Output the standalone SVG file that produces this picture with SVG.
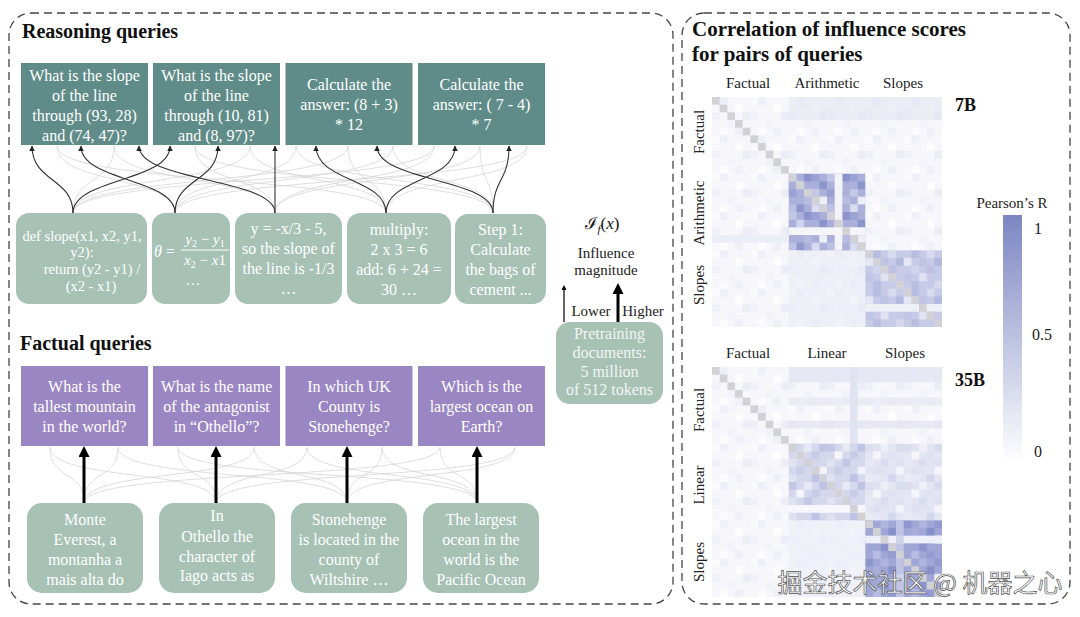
<svg xmlns="http://www.w3.org/2000/svg" width="1080" height="617" viewBox="0 0 1080 617">
<style>
text{font-family:"Liberation Serif","DejaVu Serif",serif}
.h{font-weight:bold;font-size:20px;fill:#111}
.w{fill:#fff;font-size:16px;text-anchor:middle}
.lab{font-size:15px;fill:#222}
.mid{text-anchor:middle}
.panel{fill:none;stroke:#444;stroke-width:1.3;stroke-dasharray:8 5}
.q{fill:#5f8c88}
.d{fill:#a7c1b5}
.p{fill:#9b86c4}
.dk{fill:none;stroke:#333;stroke-width:1.1;marker-end:url(#ah)}
.lt{fill:none;stroke:#d6d6d6;stroke-width:0.8}
.thick{fill:none;stroke:#000;stroke-width:3;marker-end:url(#ahb)}
</style>
<defs>
<marker id="ah" viewBox="0 0 10 10" refX="9" refY="5" markerWidth="5" markerHeight="5" orient="auto"><path d="M0,0 L10,5 L0,10 z" fill="#222"/></marker>
<marker id="ahb" viewBox="0 0 10 10" refX="0" refY="5" markerUnits="userSpaceOnUse" markerWidth="11" markerHeight="11" orient="auto"><path d="M0,0 L10,5 L0,10 z" fill="#000"/></marker>
<marker id="ahs" viewBox="0 0 10 10" refX="0" refY="5" markerUnits="userSpaceOnUse" markerWidth="6" markerHeight="5" orient="auto"><path d="M0,0 L10,5 L0,10 z" fill="#000"/></marker>
<linearGradient id="cb" x1="0" y1="0" x2="0" y2="1"><stop offset="0" stop-color="#7c86c2"/><stop offset="1" stop-color="#ffffff"/></linearGradient>
<pattern id="pf" width="38.333" height="38.333" patternUnits="userSpaceOnUse">
<rect width="38.4" height="38.4" fill="#f7f7fb"/>
<rect x="7.667" y="0" width="7.8" height="7.8" fill="#eeeff7"/>
<rect x="23" y="7.667" width="7.8" height="7.8" fill="#fdfdfe"/>
<rect x="0" y="15.333" width="7.8" height="7.8" fill="#f0f0f8"/>
<rect x="30.667" y="15.333" width="7.8" height="7.8" fill="#ebecf5"/>
<rect x="15.333" y="23" width="7.8" height="7.8" fill="#f2f2f9"/>
<rect x="7.667" y="30.667" width="7.8" height="7.8" fill="#fcfcfe"/>
<rect x="23" y="30.667" width="7.8" height="7.8" fill="#eeeff7"/>
<rect x="0" y="0" width="7.8" height="7.8" fill="#fafafd"/>
</pattern>
<pattern id="pa7" width="38.333" height="38.333" patternUnits="userSpaceOnUse">
<rect width="38.4" height="38.4" fill="#aab0da"/>
<rect x="0" y="0" width="7.8" height="7.8" fill="#c3c7e6"/>
<rect x="15.333" y="0" width="7.8" height="7.8" fill="#8a93cb"/>
<rect x="23" y="0" width="7.8" height="7.8" fill="#9aa1d3"/>
<rect x="7.667" y="7.667" width="7.8" height="7.8" fill="#d0d3ec"/>
<rect x="30.667" y="7.667" width="7.8" height="7.8" fill="#8c94cc"/>
<rect x="0" y="15.333" width="7.8" height="7.8" fill="#9aa1d3"/>
<rect x="23" y="15.333" width="7.8" height="7.8" fill="#c6c9e6"/>
<rect x="15.333" y="23" width="7.8" height="7.8" fill="#b8bce1"/>
<rect x="30.667" y="23" width="7.8" height="7.8" fill="#eeeff7"/>
<rect x="7.667" y="30.667" width="7.8" height="7.8" fill="#8f97cd"/>
<rect x="23" y="30.667" width="7.8" height="7.8" fill="#dadcef"/>
<rect x="0" y="30.667" width="7.8" height="7.8" fill="#bcc0e3"/>
</pattern>
<pattern id="ps7" width="38.333" height="38.333" patternUnits="userSpaceOnUse">
<rect width="38.4" height="38.4" fill="#c8cbe7"/>
<rect x="7.667" y="0" width="7.8" height="7.8" fill="#b8bde1"/>
<rect x="23" y="0" width="7.8" height="7.8" fill="#d9dbef"/>
<rect x="0" y="7.667" width="7.8" height="7.8" fill="#e6e7f4"/>
<rect x="15.333" y="7.667" width="7.8" height="7.8" fill="#bfc3e4"/>
<rect x="30.667" y="7.667" width="7.8" height="7.8" fill="#b3b8df"/>
<rect x="7.667" y="15.333" width="7.8" height="7.8" fill="#d2d5ec"/>
<rect x="23" y="15.333" width="7.8" height="7.8" fill="#bcc0e3"/>
<rect x="0" y="23" width="7.8" height="7.8" fill="#c0c4e5"/>
<rect x="15.333" y="23" width="7.8" height="7.8" fill="#e1e3f2"/>
<rect x="30.667" y="30.667" width="7.8" height="7.8" fill="#d6d8ee"/>
<rect x="7.667" y="30.667" width="7.8" height="7.8" fill="#b9bde1"/>
</pattern>
<pattern id="pl" width="38.333" height="38.333" patternUnits="userSpaceOnUse">
<rect width="38.4" height="38.4" fill="#d5d7ed"/>
<rect x="0" y="0" width="7.8" height="7.8" fill="#c4c7e6"/>
<rect x="15.333" y="0" width="7.8" height="7.8" fill="#e8e9f5"/>
<rect x="30.667" y="0" width="7.8" height="7.8" fill="#bfc3e4"/>
<rect x="7.667" y="7.667" width="7.8" height="7.8" fill="#f5f5fa"/>
<rect x="23" y="7.667" width="7.8" height="7.8" fill="#c9cce8"/>
<rect x="0" y="15.333" width="7.8" height="7.8" fill="#e1e2f1"/>
<rect x="15.333" y="15.333" width="7.8" height="7.8" fill="#c3c6e5"/>
<rect x="30.667" y="23" width="7.8" height="7.8" fill="#f2f2f9"/>
<rect x="7.667" y="23" width="7.8" height="7.8" fill="#cacde8"/>
<rect x="23" y="30.667" width="7.8" height="7.8" fill="#bec2e4"/>
<rect x="0" y="30.667" width="7.8" height="7.8" fill="#dfe0f0"/>
</pattern>
<pattern id="ps35" width="38.333" height="38.333" patternUnits="userSpaceOnUse">
<rect width="38.4" height="38.4" fill="#a0a7d7"/>
<rect x="0" y="0" width="7.8" height="7.8" fill="#8d95cd"/>
<rect x="15.333" y="0" width="7.8" height="7.8" fill="#b0b5de"/>
<rect x="30.667" y="0" width="7.8" height="7.8" fill="#9299cf"/>
<rect x="23" y="7.667" width="7.8" height="7.8" fill="#8890ca"/>
<rect x="7.667" y="7.667" width="7.8" height="7.8" fill="#a9aeda"/>
<rect x="30.667" y="15.333" width="7.8" height="7.8" fill="#f3f3f9"/>
<rect x="0" y="15.333" width="7.8" height="7.8" fill="#9aa1d4"/>
<rect x="15.333" y="23" width="7.8" height="7.8" fill="#8b93cc"/>
<rect x="7.667" y="30.667" width="7.8" height="7.8" fill="#b8bce1"/>
<rect x="23" y="30.667" width="7.8" height="7.8" fill="#959cd1"/>
</pattern>
<g id="diag" fill="#d2d2d6">
<rect x="0" y="0" width="7.7" height="7.7"/><rect x="7.667" y="7.667" width="7.7" height="7.7"/><rect x="15.333" y="15.333" width="7.7" height="7.7"/><rect x="23" y="23" width="7.7" height="7.7"/><rect x="30.667" y="30.667" width="7.7" height="7.7"/><rect x="38.333" y="38.333" width="7.7" height="7.7"/><rect x="46" y="46" width="7.7" height="7.7"/><rect x="53.667" y="53.667" width="7.7" height="7.7"/><rect x="61.333" y="61.333" width="7.7" height="7.7"/><rect x="69" y="69" width="7.7" height="7.7"/>
<rect x="76.667" y="76.667" width="7.7" height="7.7"/><rect x="84.333" y="84.333" width="7.7" height="7.7"/><rect x="92" y="92" width="7.7" height="7.7"/><rect x="99.667" y="99.667" width="7.7" height="7.7"/><rect x="107.333" y="107.333" width="7.7" height="7.7"/><rect x="115" y="115" width="7.7" height="7.7"/><rect x="122.667" y="122.667" width="7.7" height="7.7"/><rect x="130.333" y="130.333" width="7.7" height="7.7"/><rect x="138" y="138" width="7.7" height="7.7"/><rect x="145.667" y="145.667" width="7.7" height="7.7"/>
<rect x="153.333" y="153.333" width="7.7" height="7.7"/><rect x="161" y="161" width="7.7" height="7.7"/><rect x="168.667" y="168.667" width="7.7" height="7.7"/><rect x="176.333" y="176.333" width="7.7" height="7.7"/><rect x="184" y="184" width="7.7" height="7.7"/><rect x="191.667" y="191.667" width="7.7" height="7.7"/><rect x="199.333" y="199.333" width="7.7" height="7.7"/><rect x="207" y="207" width="7.7" height="7.7"/><rect x="214.667" y="214.667" width="7.7" height="7.7"/><rect x="222.333" y="222.333" width="7.7" height="7.7"/>
</g>
</defs>
<rect width="1080" height="617" fill="#fff"/>

<!-- panels -->
<rect class="panel" x="9" y="13" width="664" height="591" rx="22"/>
<rect class="panel" x="682" y="13" width="388" height="591" rx="22"/>

<text class="h" x="22" y="38">Reasoning queries</text>
<text class="h" x="20" y="350">Factual queries</text>

<!-- connectors -->
<g id="connectors">
<g id="reasoning-light">
<path class="lt" d="M73,213 C73,175 114,185 114,146"/>
<path class="lt" d="M73,213 C73,175 250,185 250,146"/>
<path class="lt" d="M73,213 C73,175 348,185 348,146"/>
<path class="lt" d="M73,213 C73,175 434,185 434,146"/>
<path class="lt" d="M175,213 C175,175 57,185 57,146"/>
<path class="lt" d="M175,213 C175,175 296,185 296,146"/>
<path class="lt" d="M175,213 C175,175 393,185 393,146"/>
<path class="lt" d="M175,213 C175,175 527,185 527,146"/>
<path class="lt" d="M275,213 C275,175 114,185 114,146"/>
<path class="lt" d="M275,213 C275,175 195,185 195,146"/>
<path class="lt" d="M275,213 C275,175 434,185 434,146"/>
<path class="lt" d="M275,213 C275,175 480,185 480,146"/>
<path class="lt" d="M386,213 C386,175 57,185 57,146"/>
<path class="lt" d="M386,213 C386,175 250,185 250,146"/>
<path class="lt" d="M386,213 C386,175 348,185 348,146"/>
<path class="lt" d="M386,213 C386,175 527,185 527,146"/>
<path class="lt" d="M493,213 C493,175 195,185 195,146"/>
<path class="lt" d="M493,213 C493,175 296,185 296,146"/>
<path class="lt" d="M493,213 C493,175 393,185 393,146"/>
<path class="lt" d="M493,213 C493,175 480,185 480,146"/>
</g>
<g id="reasoning-dark">
<path class="dk" d="M73,213 C73,178 32,182 32,146"/>
<path class="dk" d="M73,213 C73,178 170,182 170,146"/>
<path class="dk" d="M175,213 C175,178 81,182 81,146"/>
<path class="dk" d="M175,213 C175,178 218,182 218,146"/>
<path class="dk" d="M275,213 C275,178 139,182 139,146"/>
<path class="dk" d="M275,213 L275,146"/>
<path class="dk" d="M386,213 C386,178 316,182 316,146"/>
<path class="dk" d="M386,213 C386,178 455,182 455,146"/>
<path class="dk" d="M493,213 C493,178 377,182 377,146"/>
<path class="dk" d="M493,213 C493,178 509,182 509,146"/>
</g>
<g id="factual-light">
<path class="lt" d="M84,503 C84,468 50,482 50,447"/>
<path class="lt" d="M84,503 C84,468 118,482 118,447"/>
<path class="lt" d="M84,503 C84,468 254,482 254,447"/>
<path class="lt" d="M84,503 C84,468 440,482 440,447"/>
<path class="lt" d="M216,503 C216,468 50,482 50,447"/>
<path class="lt" d="M216,503 C216,468 178,482 178,447"/>
<path class="lt" d="M216,503 C216,468 307,482 307,447"/>
<path class="lt" d="M216,503 C216,468 515,482 515,447"/>
<path class="lt" d="M347,503 C347,468 118,482 118,447"/>
<path class="lt" d="M347,503 C347,468 254,482 254,447"/>
<path class="lt" d="M347,503 C347,468 382,482 382,447"/>
<path class="lt" d="M347,503 C347,468 515,482 515,447"/>
<path class="lt" d="M477,503 C477,468 178,482 178,447"/>
<path class="lt" d="M477,503 C477,468 307,482 307,447"/>
<path class="lt" d="M477,503 C477,468 382,482 382,447"/>
<path class="lt" d="M477,503 C477,468 440,482 440,447"/>
</g>
<g id="factual-dark">
<path class="thick" d="M84,503 L84,457"/>
<path class="thick" d="M216,503 L216,457"/>
<path class="thick" d="M347,503 L347,457"/>
<path class="thick" d="M477,503 L477,457"/>
</g>
<path d="M564,322 L564,290" stroke="#000" stroke-width="1.2" fill="none" marker-end="url(#ahs)"/>
<path class="thick" d="M618,322 L618,294"/>
</g>

<!-- reasoning queries -->
<g id="rq1"><rect class="q" x="21" y="63" width="127" height="82"/>
<text class="w"><tspan x="84.5" y="81">What is the slope</tspan><tspan x="84.5" y="101">of the line</tspan><tspan x="84.5" y="121">through (93, 28)</tspan><tspan x="84.5" y="141">and (74, 47)?</tspan></text></g>
<g id="rq2"><rect class="q" x="153" y="63" width="127" height="82"/>
<text class="w"><tspan x="216.5" y="81">What is the slope</tspan><tspan x="216.5" y="101">of the line</tspan><tspan x="216.5" y="121">through (10, 81)</tspan><tspan x="216.5" y="141">and (8, 97)?</tspan></text></g>
<g id="rq3"><rect class="q" x="285.5" y="63" width="127" height="82"/>
<text class="w"><tspan x="349" y="90">Calculate the</tspan><tspan x="349" y="110">answer: (8 + 3)</tspan><tspan x="349" y="130">* 12</tspan></text></g>
<g id="rq4"><rect class="q" x="418" y="63" width="127" height="82"/>
<text class="w"><tspan x="481.5" y="90">Calculate the</tspan><tspan x="481.5" y="110">answer: ( 7 - 4)</tspan><tspan x="481.5" y="130">* 7</tspan></text></g>

<!-- reasoning docs -->
<g id="rd1"><rect class="d" x="16" y="213" width="131" height="91" rx="13"/>
<text class="w" style="font-size:14.5px"><tspan x="82" y="241">def slope(x1, x2, y1,</tspan><tspan x="82" y="257">y2):</tspan><tspan x="92" y="274">return (y2 - y1) /</tspan><tspan x="91" y="291">(x2 - x1)</tspan></text></g>
<g id="rd2"><rect class="d" x="152" y="213" width="78" height="91" rx="13"/>
<text x="154" y="257" fill="#fff" font-size="16" font-style="italic">θ</text>
<text x="166" y="257" fill="#fff" font-size="16">=</text>
<text x="205" y="244" fill="#fff" font-size="15" class="mid"><tspan font-style="italic">y</tspan><tspan font-size="10" dy="3">2</tspan><tspan dy="-3"> − </tspan><tspan font-style="italic">y</tspan><tspan font-size="10" dy="3">1</tspan></text>
<line x1="181" y1="250" x2="229" y2="250" stroke="#fff" stroke-width="1"/>
<text x="205" y="265" fill="#fff" font-size="15" class="mid"><tspan font-style="italic">x</tspan><tspan font-size="10" dy="3">2</tspan><tspan dy="-3"> − </tspan><tspan font-style="italic">x</tspan>1</text>
<text x="193" y="285" fill="#fff" font-size="15" class="mid">…</text></g>
<g id="rd3"><rect class="d" x="235" y="213" width="107" height="91" rx="13"/>
<text class="w"><tspan x="288.5" y="234">y = -x/3 - 5,</tspan><tspan x="288.5" y="254">so the slope of</tspan><tspan x="288.5" y="274">the line is -1/3</tspan><tspan x="288.5" y="294">…</tspan></text></g>
<g id="rd4"><rect class="d" x="347" y="213" width="104" height="91" rx="13"/>
<text class="w"><tspan x="399" y="235">multiply:</tspan><tspan x="399" y="255">2 x 3 = 6</tspan><tspan x="399" y="275">add: 6 + 24 =</tspan><tspan x="399" y="295">30 …</tspan></text></g>
<g id="rd5"><rect class="d" x="455" y="214" width="91" height="90" rx="13"/>
<text class="w"><tspan x="500.5" y="235">Step 1:</tspan><tspan x="500.5" y="255">Calculate</tspan><tspan x="500.5" y="275">the bags of</tspan><tspan x="500.5" y="295">cement ...</tspan></text></g>

<!-- influence legend -->
<g id="legend">
<text x="602" y="229" class="mid" font-size="17" fill="#111">ℐ<tspan font-size="11" dy="4" font-style="italic">f</tspan><tspan dy="-4">(</tspan><tspan font-style="italic">x</tspan>)</text>
<text class="lab mid" x="606" y="258">Influence</text>
<text class="lab mid" x="606" y="275">magnitude</text>
<text class="lab mid" x="591" y="316">Lower</text>
<text class="lab mid" x="643" y="316">Higher</text>
</g>
<g id="pretraining"><rect class="d" x="556" y="322" width="107" height="82" rx="14"/>
<text class="w" style="fill:#f2f6f4"><tspan x="609.5" y="339">Pretraining</tspan><tspan x="609.5" y="358">documents:</tspan><tspan x="609.5" y="377">5 million</tspan><tspan x="609.5" y="395">of 512 tokens</tspan></text></g>

<!-- factual queries -->
<g id="fq1"><rect class="p" x="21" y="366" width="127" height="80"/>
<text class="w"><tspan x="84.5" y="392">What is the</tspan><tspan x="84.5" y="412">tallest mountain</tspan><tspan x="84.5" y="432">in the world?</tspan></text></g>
<g id="fq2"><rect class="p" x="153" y="366" width="127" height="80"/>
<text class="w"><tspan x="216.5" y="392">What is the name</tspan><tspan x="216.5" y="412">of the antagonist</tspan><tspan x="216.5" y="432">in “Othello”?</tspan></text></g>
<g id="fq3"><rect class="p" x="285.5" y="366" width="127" height="80"/>
<text class="w"><tspan x="349" y="392">In which UK</tspan><tspan x="349" y="412">County is</tspan><tspan x="349" y="432">Stonehenge?</tspan></text></g>
<g id="fq4"><rect class="p" x="418" y="366" width="127" height="80"/>
<text class="w"><tspan x="481.5" y="392">Which is the</tspan><tspan x="481.5" y="412">largest ocean on</tspan><tspan x="481.5" y="432">Earth?</tspan></text></g>

<!-- factual docs -->
<g id="fd1"><rect class="d" x="27" y="503" width="116" height="90" rx="15"/>
<text class="w"><tspan x="85" y="525">Monte</tspan><tspan x="85" y="545">Everest, a</tspan><tspan x="85" y="565">montanha a</tspan><tspan x="85" y="585">mais alta do</tspan></text></g>
<g id="fd2"><rect class="d" x="159" y="503" width="116" height="90" rx="15"/>
<text class="w"><tspan x="217" y="521">In</tspan><tspan x="217" y="542">Othello the</tspan><tspan x="217" y="562">character of</tspan><tspan x="217" y="581">Iago acts as</tspan></text></g>
<g id="fd3"><rect class="d" x="291" y="503" width="116" height="90" rx="15"/>
<text class="w"><tspan x="349" y="525">Stonehenge</tspan><tspan x="349" y="545">is located in the</tspan><tspan x="349" y="565">county of</tspan><tspan x="349" y="585">Wiltshire …</tspan></text></g>
<g id="fd4"><rect class="d" x="423" y="503" width="116" height="90" rx="15"/>
<text class="w"><tspan x="481" y="525">The largest</tspan><tspan x="481" y="545">ocean in the</tspan><tspan x="481" y="565">world is the</tspan><tspan x="481" y="585">Pacific Ocean</tspan></text></g>

<!-- right panel -->
<text x="692" y="36" style="font-weight:bold;font-size:21px;fill:#111">Correlation of influence scores</text>
<text x="692" y="61" style="font-weight:bold;font-size:21px;fill:#111">for pairs of queries</text>

<g id="heatmap-7b">
<text class="lab mid" x="748" y="88">Factual</text>
<text class="lab mid" x="827" y="88">Arithmetic</text>
<text class="lab mid" x="903" y="88">Slopes</text>
<text class="lab mid" transform="translate(704,132) rotate(-90)">Factual</text>
<text class="lab mid" transform="translate(704,213) rotate(-90)">Arithmetic</text>
<text class="lab mid" transform="translate(704,285) rotate(-90)">Slopes</text>
<text x="955" y="111" style="font-weight:bold;font-size:18px;fill:#111">7B</text>
<g transform="translate(712,97)">
<rect width="230" height="230" fill="url(#pf)"/>
<rect x="76.667" y="0" width="153.333" height="23" fill="#e4e5f2" opacity="0.6"/>
<rect x="153.333" y="76.667" width="76.667" height="76.667" fill="url(#pf)" opacity="0.8"/>
<rect x="76.667" y="153.333" width="76.667" height="76.667" fill="#e8e9f4" opacity="0.5"/>
<rect x="76.667" y="76.667" width="76.667" height="76.667" fill="url(#pa7)"/>
<rect x="122.667" y="76.667" width="7.7" height="76.667" fill="#f3f3f9"/>
<rect x="76.667" y="130.333" width="76.667" height="7.7" fill="#f6f6fa"/>
<rect x="0" y="138" width="76.667" height="7.7" fill="#eceef7"/>
<rect x="153.333" y="153.333" width="76.667" height="76.667" fill="url(#ps7)"/>
<rect x="153.333" y="207" width="76.667" height="7.7" fill="#eef0f8"/>
<use href="#diag"/>
</g>
</g>

<g id="heatmap-35b">
<text class="lab mid" x="748" y="358">Factual</text>
<text class="lab mid" x="827" y="358">Linear</text>
<text class="lab mid" x="905" y="358">Slopes</text>
<text class="lab mid" transform="translate(704,410) rotate(-90)">Factual</text>
<text class="lab mid" transform="translate(704,485) rotate(-90)">Linear</text>
<text class="lab mid" transform="translate(704,562) rotate(-90)">Slopes</text>
<text x="955" y="386" style="font-weight:bold;font-size:18px;fill:#111">35B</text>
<g transform="translate(712,367)">
<rect width="230" height="230" fill="url(#pf)"/>
<rect x="76.667" y="0" width="153.333" height="15.333" fill="#e3e4f2" opacity="0.8"/>
<rect x="76.667" y="30.667" width="153.333" height="7.7" fill="#e6e7f3" opacity="0.8"/>
<rect x="76.667" y="53.667" width="153.333" height="7.7" fill="#e4e5f2" opacity="0.8"/>
<rect x="138" y="0" width="7.7" height="153.333" fill="#e2e3f1"/>
<rect x="153.333" y="76.667" width="76.667" height="76.667" fill="url(#pl)" opacity="0.55"/>
<rect x="76.667" y="153.333" width="76.667" height="76.667" fill="#eceef7" opacity="0.7"/>
<rect x="76.667" y="76.667" width="76.667" height="76.667" fill="url(#pl)"/>
<rect x="76.667" y="138" width="76.667" height="7.7" fill="#f7f7fb"/>
<rect x="153.333" y="153.333" width="76.667" height="76.667" fill="url(#ps35)"/>
<rect x="153.333" y="168.667" width="76.667" height="7.7" fill="#eeeff8"/>
<rect x="184" y="153.333" width="7.7" height="76.667" fill="#c9cce8" opacity="0.8"/>
<use href="#diag"/>
</g>
</g>

<g id="colorbar">
<text class="mid" x="1012" y="208" font-size="15" fill="#222">Pearson’s R</text>
<rect x="1003" y="215" width="19" height="248" fill="url(#cb)"/>
<text x="1034" y="234" font-size="16" fill="#222">1</text>
<text x="1032" y="340" font-size="16" fill="#222">0.5</text>
<text x="1034" y="457" font-size="16" fill="#222">0</text>
</g>

<text x="920" y="592" text-anchor="middle" style="font-family:'Noto Sans CJK SC','Noto Sans',sans-serif;font-size:25px;fill:#fff;stroke:#555;stroke-width:0.7">掘金技术社区 @ 机器之心</text>
</svg>
